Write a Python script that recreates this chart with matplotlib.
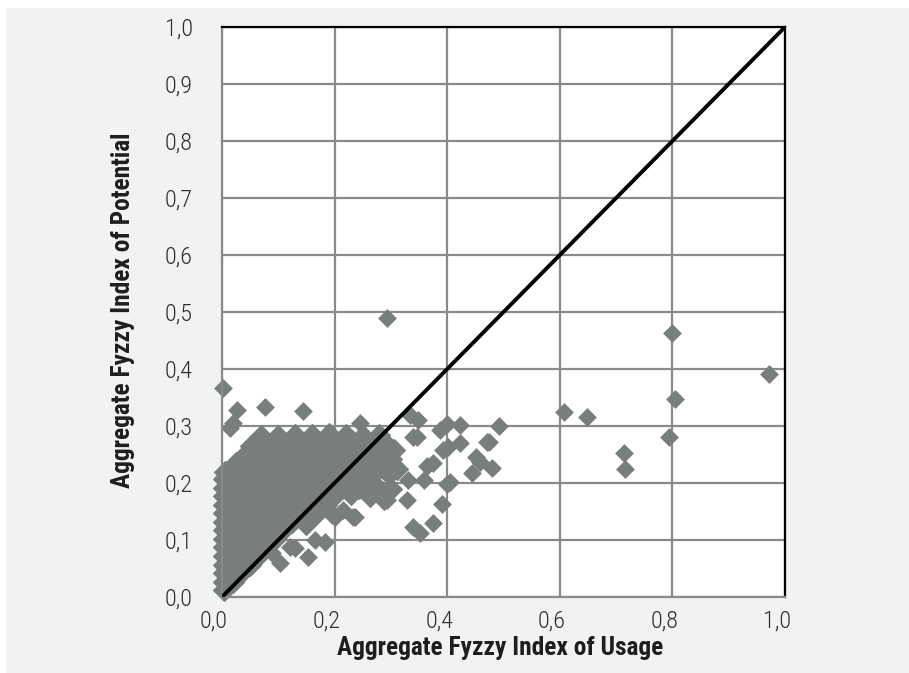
import matplotlib
matplotlib.use("Agg")
import matplotlib.pyplot as plt
from matplotlib.patches import Rectangle
from matplotlib.transforms import ScaledTranslation

dense_pts = [
    (0.004, 0.012),
    (0.004, 0.027), (0.019, 0.027),
    (0.004, 0.042), (0.034, 0.042),
    (0.004, 0.057), (0.019, 0.057), (0.049, 0.057),
    (0.004, 0.072), (0.034, 0.072), (0.064, 0.072),
    (0.004, 0.087), (0.019, 0.087), (0.049, 0.087), (0.079, 0.087),
    (0.004, 0.102), (0.034, 0.102), (0.064, 0.102), (0.094, 0.102),
    (0.004, 0.117), (0.019, 0.117), (0.049, 0.117), (0.079, 0.117), (0.109, 0.117),
    (0.004, 0.132), (0.034, 0.132), (0.064, 0.132), (0.094, 0.132), (0.124, 0.132), (0.150, 0.128),
    (0.004, 0.147), (0.019, 0.147), (0.049, 0.147), (0.079, 0.147), (0.109, 0.147), (0.139, 0.147),
    (0.169, 0.147),
    (0.004, 0.162), (0.034, 0.162), (0.064, 0.162), (0.094, 0.162), (0.124, 0.162), (0.154, 0.162),
    (0.184, 0.162),
    (0.004, 0.177), (0.019, 0.177), (0.049, 0.177), (0.079, 0.177), (0.109, 0.177), (0.139, 0.177),
    (0.169, 0.177), (0.199, 0.177), (0.229, 0.180), (0.262, 0.178), (0.288, 0.172),
    (0.004, 0.192), (0.034, 0.192), (0.064, 0.192), (0.094, 0.192), (0.124, 0.192), (0.154, 0.192),
    (0.184, 0.192), (0.214, 0.192), (0.244, 0.192), (0.274, 0.195), (0.300, 0.190),
    (0.004, 0.207), (0.019, 0.207), (0.049, 0.207), (0.079, 0.207), (0.109, 0.207), (0.139, 0.207),
    (0.169, 0.207), (0.199, 0.207), (0.229, 0.207), (0.262, 0.212), (0.296, 0.215),
    (0.006, 0.220), (0.034, 0.222), (0.064, 0.222), (0.094, 0.222), (0.124, 0.222), (0.154, 0.222),
    (0.184, 0.222), (0.214, 0.222), (0.244, 0.222), (0.282, 0.228), (0.310, 0.225),
    (0.024, 0.235), (0.049, 0.237), (0.079, 0.237), (0.109, 0.237), (0.139, 0.237), (0.169, 0.237),
    (0.199, 0.237), (0.229, 0.237), (0.259, 0.240), (0.300, 0.242),
    (0.040, 0.250), (0.064, 0.252), (0.094, 0.252), (0.124, 0.252), (0.154, 0.252), (0.184, 0.252),
    (0.214, 0.252), (0.244, 0.252), (0.274, 0.255), (0.306, 0.258),
    (0.052, 0.265), (0.079, 0.267), (0.109, 0.267), (0.139, 0.267), (0.169, 0.267), (0.199, 0.267),
    (0.229, 0.267), (0.259, 0.267), (0.290, 0.270),
    (0.070, 0.282), (0.100, 0.283), (0.130, 0.284), (0.160, 0.285), (0.190, 0.286), (0.220, 0.284),
    (0.250, 0.282), (0.278, 0.284),
]

# scattered points around the cluster and outliers
sparse_usage = [
    0.293, 0.002, 0.026, 0.076, 0.144, 0.020, 0.014, 0.245, 0.334, 0.349,
    0.399, 0.423, 0.492, 0.470, 0.346, 0.402, 0.423, 0.452, 0.458, 0.479,
    0.444, 0.375, 0.399, 0.364, 0.328, 0.390, 0.340, 0.352, 0.375, 0.293,
    0.233, 0.200, 0.183, 0.153, 0.103, 0.121, 0.065, 0.088, 0.195, 0.215,
    0.236, 0.800, 0.972, 0.805, 0.794, 0.607, 0.648, 0.714, 0.716, 0.474,
    0.405, 0.393, 0.358, 0.304, 0.387, 0.330, 0.165, 0.130, 0.340,
]
sparse_potential = [
    0.490, 0.367, 0.328, 0.334, 0.327, 0.305, 0.296, 0.305, 0.319, 0.311,
    0.303, 0.302, 0.300, 0.272, 0.281, 0.264, 0.270, 0.246, 0.237, 0.226,
    0.217, 0.235, 0.199, 0.229, 0.170, 0.163, 0.123, 0.112, 0.129, 0.170,
    0.141, 0.141, 0.097, 0.071, 0.059, 0.088, 0.071, 0.077, 0.144, 0.153,
    0.141, 0.463, 0.391, 0.347, 0.280, 0.324, 0.315, 0.253, 0.224, 0.272,
    0.202, 0.258, 0.205, 0.229, 0.293, 0.205, 0.100, 0.086, 0.281,
]

y_ticks = [0.0, 0.1, 0.2, 0.3, 0.4, 0.5, 0.6, 0.7, 0.8, 0.9, 1.0]
x_ticks = [0.0, 0.2, 0.4, 0.6, 0.8, 1.0]

bg = '#f1f2f4'
marker_col = '#787d7d'
grid_col = '#8a8a8a'
font = ['Roboto Condensed', 'DejaVu Sans']


def comma(v):
    return f'{v:.1f}'.replace('.', ',')


fig = plt.figure(figsize=(9.09, 6.73), dpi=100, facecolor='white')
fig.patches.append(Rectangle((6 / 909, 0), 1, (673 - 8) / 673, transform=fig.transFigure,
                             facecolor=bg, edgecolor='none', zorder=-10))

ax = fig.add_axes([222 / 909, 76 / 673, 563 / 909, 570 / 673])
ax.set_facecolor('white')
ax.set_xlim(0, 1)
ax.set_ylim(0, 1)

ax.set_xticks(x_ticks)
ax.set_yticks(y_ticks)
ax.set_xticklabels([comma(t) for t in x_ticks])
ax.set_yticklabels([comma(t) for t in y_ticks])
ax.grid(True, color=grid_col, linewidth=1.6, zorder=0)
ax.set_axisbelow(True)
ax.tick_params(length=0, labelsize=17.5, labelcolor='#2e2e2e')
ax.tick_params(axis='y', pad=21)
ax.tick_params(axis='x', pad=9)
for lab in ax.get_xticklabels() + ax.get_yticklabels():
    lab.set_family(font)
    lab.set_fontweight(300)
for lab in ax.get_xticklabels():
    lab.set_transform(lab.get_transform() + ScaledTranslation(-0.08, 0, fig.dpi_scale_trans))

ax.spines['top'].set_color('black')
ax.spines['right'].set_color('black')
ax.spines['left'].set_color(grid_col)
ax.spines['bottom'].set_color(grid_col)
for s in ax.spines.values():
    s.set_linewidth(1.6)

dx = [p[0] for p in dense_pts]
dy = [p[1] for p in dense_pts]
ax.scatter(dx, dy, s=125, marker='D', color=marker_col, linewidths=0.8, edgecolors=marker_col,
           zorder=2, clip_on=False)
ax.scatter(sparse_usage, sparse_potential, s=92, marker='D', color=marker_col, linewidths=0,
           zorder=2, clip_on=False)
ax.plot([0, 1], [0, 1], color='black', linewidth=2.8, zorder=3, solid_capstyle='butt')

fig.text(500 / 909, 1 - 648 / 673, 'Aggregate Fyzzy Index of Usage', ha='center', va='center',
         fontsize=18.3, fontweight='bold', family=font, color='#1e1e1e')
fig.text(123 / 909, 1 - 310 / 673, 'Aggregate Fyzzy Index of Potential', ha='center', va='center',
         rotation=90, fontsize=18.3, fontweight='bold', family=font, color='#1e1e1e')

fig.savefig('out.png', dpi=100, facecolor=fig.get_facecolor())
